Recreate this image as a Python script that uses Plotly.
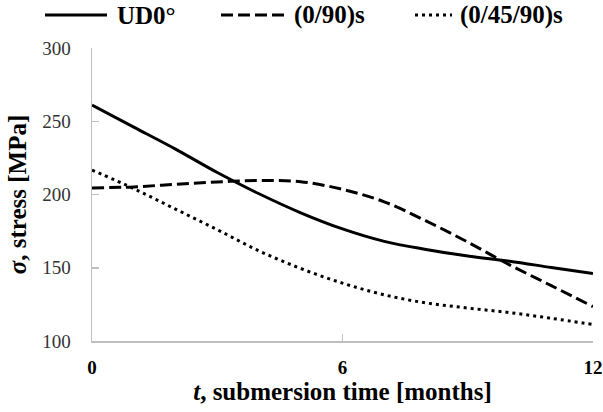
import plotly.graph_objects as go

months = [0, 1, 2, 3, 4, 5, 6, 7, 8, 9, 10, 11, 12]
ud0 = [261, 246, 231, 215, 200.5, 187.5, 176.5, 168, 162.5, 158, 154.5, 150.2, 146]
cp090 = [204.5, 205.2, 207, 208.6, 209.5, 208.7, 203.5, 195, 182, 167.5, 152, 137.8, 123.5]
cp04590 = [216.7, 204, 190, 176, 161.5, 149.5, 139.5, 131.5, 126, 122.5, 119.4, 115.5, 111.3]

series_names = ["UD0°", "(0/90)s", "(0/45/90)s"]
x_ticks = [0, 6, 12]
y_ticks = [100, 150, 200, 250, 300]

FONT = "Liberation Serif"
AX = "#bfbfbf"

# plot area in pixels (for legend placement)
L, R, T, B, W, H = 92, 10, 48, 71, 603, 412
PW, PH = W - L - R, H - T - B
def px(x):
    return (x - L) / PW
def py(y):
    return (H - B - y) / PH

dashes = ["solid", "12px,5px", "3px,4px"]
fig = go.Figure()
for name, ys, d in zip(series_names, [ud0, cp090, cp04590], dashes):
    fig.add_trace(go.Scatter(
        x=months, y=ys, mode="lines", name=name, showlegend=False,
        line=dict(shape="spline", smoothing=1.0, color="black", width=3, dash=d),
    ))

# manual legend (line samples + labels)
leg = [(45, 107, 115), (221, 288, 292), (415, 452, 458)]
ly = py(15)
for (x0, x1, xt), name, d in zip(leg, series_names, dashes):
    fig.add_shape(type="line", xref="paper", yref="paper", x0=px(x0), x1=px(x1),
                  y0=ly, y1=ly, line=dict(color="black", width=3, dash=d))
    fig.add_annotation(xref="paper", yref="paper", x=px(xt), y=ly, xanchor="left",
                       yanchor="middle", text="<b>" + name + "</b>", showarrow=False,
                       font=dict(size=25, family=FONT, color="black"))

fig.update_layout(
    width=W, height=H,
    margin=dict(l=L, r=R, t=T, b=B),
    plot_bgcolor="white", paper_bgcolor="white",
    font=dict(family=FONT, color="black", size=19),
    showlegend=False,
    xaxis=dict(range=[0, 12], tickvals=x_ticks, ticktext=["<b>%d</b>" % v for v in x_ticks],
               showline=True, linecolor=AX, linewidth=1.5, ticks="inside", ticklen=7,
               tickcolor=AX, tickwidth=1.5, showgrid=False, zeroline=False,
               automargin=False, ticklabelstandoff=9,
               tickfont=dict(size=19, family=FONT, color="black"),
               title=dict(text="<b><i>t</i>, submersion time [months]</b>",
                          font=dict(size=25, family=FONT), standoff=2)),
    yaxis=dict(range=[100, 300], tickvals=y_ticks,
               showline=True, linecolor=AX, linewidth=1.5, ticks="inside", ticklen=7,
               tickcolor=AX, tickwidth=1.5, showgrid=False, zeroline=False,
               automargin=False, ticklabelstandoff=16,
               tickfont=dict(size=19, family=FONT, color="#333"),
               title=dict(text="<b><i>σ</i>, stress [MPa]</b>",
                          font=dict(size=25, family=FONT), standoff=8)),
)

fig.write_html("out.html", config={"displayModeBar": False, "staticPlot": True},
               post_script="document.body.style.margin='0';document.body.style.overflow='hidden';")
